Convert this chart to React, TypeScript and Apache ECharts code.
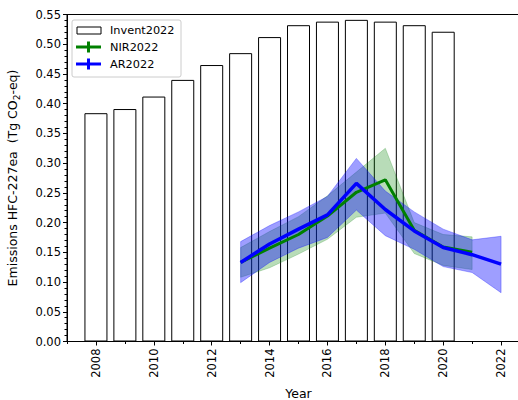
import React, { useEffect, useRef } from "react";
import * as echarts from "echarts";

const invYears = [2008, 2009, 2010, 2011, 2012, 2013, 2014, 2015, 2016, 2017, 2018, 2019, 2020];
const inventory = [0.384, 0.391, 0.412, 0.440, 0.465, 0.485, 0.512, 0.532, 0.538, 0.541, 0.538, 0.532, 0.521];

const nirYears = [2013, 2014, 2015, 2016, 2017, 2018, 2019, 2020, 2021];
const nir = [0.133, 0.157, 0.180, 0.211, 0.251, 0.272, 0.187, 0.159, 0.150];
const nirLow = [0.108, 0.124, 0.147, 0.172, 0.209, 0.216, 0.148, 0.128, 0.121];
const nirHigh = [0.158, 0.185, 0.210, 0.245, 0.285, 0.325, 0.200, 0.180, 0.176];

const arYears = [2013, 2014, 2015, 2016, 2017, 2018, 2019, 2020, 2021, 2022];
const ar = [0.133, 0.164, 0.189, 0.213, 0.266, 0.222, 0.186, 0.158, 0.146, 0.130];
const arLow = [0.099, 0.133, 0.157, 0.175, 0.221, 0.178, 0.155, 0.126, 0.116, 0.082];
const arHigh = [0.168, 0.195, 0.218, 0.244, 0.308, 0.253, 0.218, 0.189, 0.171, 0.177];

const majorTicks = [2008, 2010, 2012, 2014, 2016, 2018, 2020, 2022];
const minorTicks = [2007, 2009, 2011, 2013, 2015, 2017, 2019, 2021, 2023];

const FONT = "DejaVu Sans";

function bandSeries(name: string, xs: number[], lo: number[], hi: number[], fill: string, opacity: number, z: number) {
  return {
    name,
    type: "custom",
    xAxisIndex: 0,
    yAxisIndex: 0,
    z,
    clip: true,
    silent: true,
    encode: { x: 0, y: [1, 2] },
    data: xs.map((x, i) => [x, lo[i], hi[i]]),
    renderItem: (params: any, api: any) => {
      if (params.dataIndex !== 0) return null;
      const pts: number[][] = [];
      for (let i = 0; i < xs.length; i++) pts.push(api.coord([xs[i], hi[i]]));
      for (let i = xs.length - 1; i >= 0; i--) pts.push(api.coord([xs[i], lo[i]]));
      return {
        type: "polygon",
        shape: { points: pts },
        style: { fill, opacity, stroke: fill, lineWidth: 0.8 },
      };
    },
  };
}

export default function App() {
  const ref = useRef<HTMLDivElement>(null);
  useEffect(() => {
    if (!ref.current) return;
    const chart = echarts.init(ref.current, null, { renderer: "svg" });
    const legendX = 72;
    const legendY = 20;
    chart.setOption({
      animation: false,
      backgroundColor: "#ffffff",
      textStyle: { fontFamily: FONT },
      grid: {
        left: 67,
        top: 14.5,
        width: 463,
        height: 327,
        containLabel: false,
        outerBoundsMode: "none",
        show: true,
        borderColor: "#000",
        borderWidth: 1,
        backgroundColor: "transparent",
      },
      xAxis: [
        {
          type: "value",
          min: 2007,
          max: 2023,
          position: "bottom",
          name: "Year",
          nameLocation: "middle",
          nameGap: 45,
          nameTextStyle: { fontSize: 12.5, color: "#000", fontFamily: FONT },
          axisLine: { show: true, lineStyle: { color: "#000", width: 1 } },
          axisTick: { show: true, customValues: majorTicks, length: 4, lineStyle: { color: "#000" } },
          axisLabel: {
            show: true,
            customValues: majorTicks,
            rotate: 90,
            fontSize: 11.5,
            color: "#000",
            fontFamily: FONT,
            margin: 7,
            formatter: (v: number) => String(v),
          },
          splitLine: { show: false },
        },
        {
          type: "value",
          min: 2007,
          max: 2023,
          position: "bottom",
          axisLine: { show: false },
          axisTick: { show: true, customValues: minorTicks, length: 2.5, lineStyle: { color: "#000" } },
          axisLabel: { show: false },
          splitLine: { show: false },
        },
      ],
      yAxis: {
        type: "value",
        min: 0,
        max: 0.55,
        interval: 0.05,
        name: "Emissions HFC-227ea  (Tg CO{sub|2}-eq)",
        nameLocation: "middle",
        nameGap: 46,
        nameTextStyle: {
          fontSize: 12.5,
          color: "#000",
          fontFamily: FONT,
          rich: {
            sub: { fontSize: 9, fontFamily: FONT, color: "#000", verticalAlign: "bottom", lineHeight: 18 },
          },
        },
        axisLine: { show: true, lineStyle: { color: "#000", width: 1 } },
        axisTick: { show: true, length: 4, lineStyle: { color: "#000" } },
        minorTick: { show: true, splitNumber: 5, length: 2.5, lineStyle: { color: "#000" } },
        axisLabel: {
          fontSize: 11.5,
          color: "#000",
          fontFamily: FONT,
          margin: 6,
          formatter: (v: number) => v.toFixed(2),
        },
        splitLine: { show: false },
      },
      series: [
        {
          name: "Invent2022",
          type: "bar",
          xAxisIndex: 0,
          barWidth: 23,
          z: 1,
          data: invYears.map((y, i) => [y, inventory[i]]),
          itemStyle: { color: "rgba(255,255,255,0)", borderColor: "#000", borderWidth: 1 },
        },
        bandSeries("NIR band", nirYears, nirLow, nirHigh, "#008000", 0.28, 2),
        bandSeries("AR band", arYears, arLow, arHigh, "#0000ff", 0.38, 3),
        {
          name: "NIR2022",
          type: "line",
          xAxisIndex: 0,
          z: 4,
          symbol: "none",
          data: nirYears.map((y, i) => [y, nir[i]]),
          lineStyle: { color: "#008000", width: 3 },
          itemStyle: { color: "#008000" },
        },
        {
          name: "AR2022",
          type: "line",
          xAxisIndex: 0,
          z: 5,
          symbol: "none",
          data: arYears.map((y, i) => [y, ar[i]]),
          lineStyle: { color: "#0000ff", width: 3.5 },
          itemStyle: { color: "#0000ff" },
        },
      ],
      graphic: [
        {
          type: "rect",
          z: 100,
          shape: { x: legendX, y: legendY, width: 109, height: 57, r: 2 },
          style: { fill: "rgba(255,255,255,0.8)", stroke: "#cccccc", lineWidth: 1 },
        },
        {
          type: "rect",
          z: 101,
          shape: { x: 77, y: 27, width: 24, height: 7 },
          style: { fill: "#fff", stroke: "#000", lineWidth: 1 },
        },
        {
          type: "text",
          z: 101,
          x: 110,
          y: 30.5,
          style: { text: "Invent2022", fontSize: 11.3, fontFamily: FONT, fill: "#000", verticalAlign: "middle" },
        },
        {
          type: "line",
          z: 101,
          shape: { x1: 76, y1: 47, x2: 101, y2: 47 },
          style: { stroke: "#008000", lineWidth: 3 },
        },
        {
          type: "line",
          z: 101,
          shape: { x1: 88.5, y1: 41.5, x2: 88.5, y2: 52.5 },
          style: { stroke: "#008000", lineWidth: 3 },
        },
        {
          type: "text",
          z: 101,
          x: 110,
          y: 47.5,
          style: { text: "NIR2022", fontSize: 11.3, fontFamily: FONT, fill: "#000", verticalAlign: "middle" },
        },
        {
          type: "line",
          z: 101,
          shape: { x1: 76, y1: 64, x2: 101, y2: 64 },
          style: { stroke: "#0000ff", lineWidth: 3 },
        },
        {
          type: "line",
          z: 101,
          shape: { x1: 88.5, y1: 58.5, x2: 88.5, y2: 69.5 },
          style: { stroke: "#0000ff", lineWidth: 3 },
        },
        {
          type: "text",
          z: 101,
          x: 110,
          y: 64.5,
          style: { text: "AR2022", fontSize: 11.3, fontFamily: FONT, fill: "#000", verticalAlign: "middle" },
        },
      ],
    });
    return () => chart.dispose();
  }, []);
  return (
    <div
      ref={ref}
      style={{ position: "absolute", left: 0, top: 0, width: 518, height: 400, overflow: "hidden", background: "#fff" }}
    />
  );
}
